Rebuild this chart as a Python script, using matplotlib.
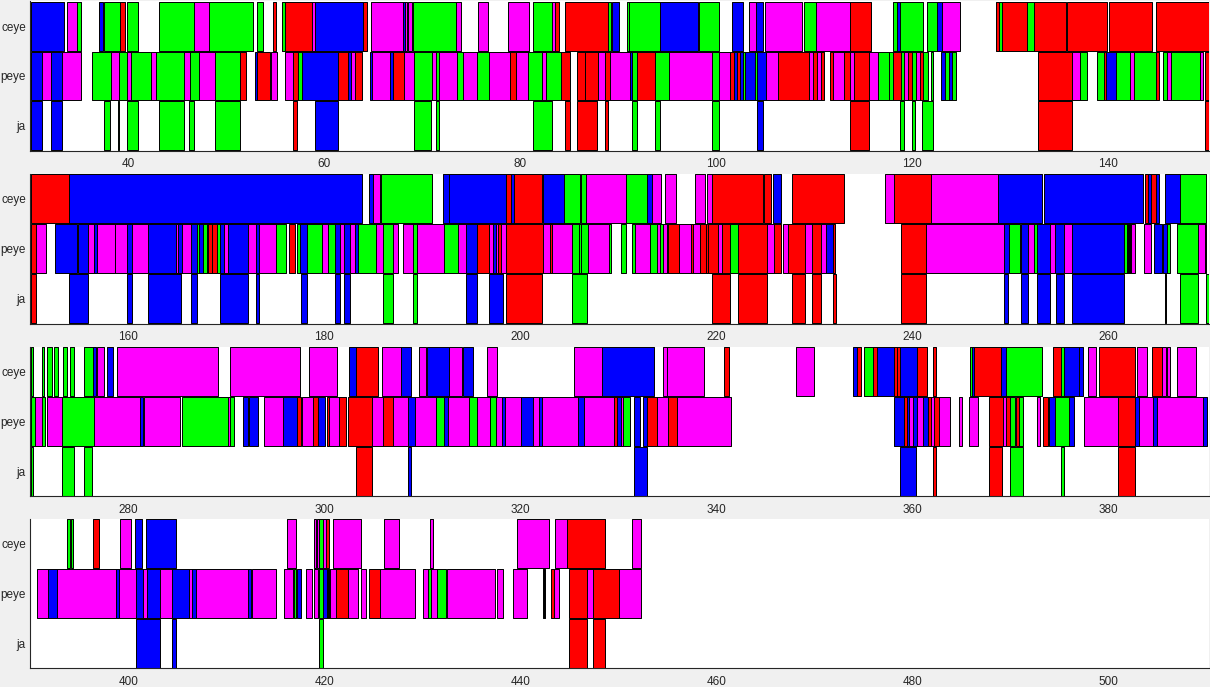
import matplotlib
matplotlib.use('Agg')
from matplotlib import pyplot as plt

# segments: (start, end, colour) in seconds
# row 1: 30-150 s
ceye_r1 = [(30.07, 33.47, 'b'), (33.78, 34.73, 'm'), (34.77, 35.18, 'g'), (37.05, 37.45, 'b'), (37.52, 39.15, 'g'),
           (39.15, 39.66, 'r'), (39.83, 41.03, 'g'), (43.13, 46.74, 'g'), (46.74, 48.27, 'm'), (48.27, 52.69, 'g'),
           (53.13, 53.75, 'g'), (54.8, 55.1, 'r'), (55.65, 55.99, 'g'), (55.99, 58.71, 'r'), (58.71, 59.05, 'm'),
           (59.05, 63.98, 'b'), (63.98, 64.32, 'r'), (64.77, 68.07, 'm'), (68.07, 68.2, 'b'), (68.2, 68.47, 'm'),
           (68.5, 68.91, 'm'), (69.08, 73.4, 'g'), (73.4, 73.94, 'm'), (75.68, 76.73, 'm'), (78.74, 80.85, 'm'),
           (81.33, 83.26, 'g'), (83.26, 83.54, 'm'), (83.54, 83.91, 'r'), (84.52, 88.91, 'r'), (88.91, 89.22, 'g'),
           (89.35, 90.07, 'b'), (90.85, 91.12, 'g'), (91.12, 94.25, 'g'), (94.25, 98.16, 'b'), (98.23, 100.3, 'g'),
           (101.63, 102.69, 'b'), (103.3, 104.01, 'm'), (104.05, 104.8, 'b'), (105.0, 108.77, 'm'), (108.98, 110.17, 'g'),
           (110.17, 113.64, 'm'), (113.64, 115.82, 'r'), (118.03, 118.47, 'g'), (118.47, 118.74, 'b'), (118.74, 121.06, 'g'),
           (121.47, 122.55, 'g'), (122.55, 123.0, 'b'), (123.0, 124.9, 'm'), (128.54, 128.81, 'r'), (128.81, 129.19, 'g'),
           (129.19, 131.67, 'r'), (131.67, 132.45, 'g'), (132.45, 135.65, 'r'), (135.82, 139.83, 'r'), (140.04, 144.46, 'r'),
           (144.87, 150.4, 'r')]
peye_r1 = [(30.07, 31.16, 'b'), (31.16, 32.08, 'm'), (32.08, 33.24, 'b'), (33.24, 35.14, 'm'), (36.33, 38.2, 'g'),
           (38.2, 39.05, 'm'), (39.05, 39.87, 'g'), (39.87, 40.28, 'm'), (40.28, 42.28, 'g'), (42.28, 42.86, 'm'),
           (42.86, 45.65, 'g'), (45.65, 46.26, 'm'), (46.26, 47.25, 'g'), (47.25, 48.88, 'm'), (48.88, 51.4, 'g'),
           (51.4, 51.98, 'r'), (52.9, 53.17, 'b'), (53.17, 54.49, 'r'), (54.53, 55.21, 'm'), (56.03, 56.84, 'm'),
           (56.84, 57.28, 'r'), (57.28, 57.69, 'g'), (57.69, 61.4, 'b'), (61.4, 62.45, 'r'), (62.45, 62.69, 'b'),
           (62.69, 63.13, 'm'), (63.13, 63.81, 'r'), (64.7, 64.91, 'b'), (64.91, 66.71, 'm'), (66.71, 66.98, 'b'),
           (66.98, 68.16, 'r'), (68.16, 69.15, 'm'), (69.15, 70.95, 'g'), (70.95, 71.39, 'm'), (71.39, 71.73, 'g'),
           (71.73, 73.5, 'm'), (73.5, 74.11, 'g'), (74.11, 75.54, 'm'), (75.54, 76.84, 'g'), (76.84, 78.94, 'm'),
           (78.94, 79.56, 'r'), (79.56, 80.82, 'm'), (80.82, 82.18, 'g'), (82.18, 82.58, 'm'), (82.58, 84.11, 'g'),
           (84.11, 85.07, 'r'), (85.75, 86.63, 'r'), (86.63, 87.89, 'r'), (87.89, 88.67, 'm'), (88.67, 89.18, 'r'),
           (89.18, 91.19, 'm'), (91.19, 91.43, 'b'), (91.43, 91.94, 'g'), (91.94, 93.77, 'r'), (93.77, 95.14, 'g'),
           (95.14, 99.59, 'm'), (99.59, 100.3, 'g'), (100.3, 101.39, 'm'), (101.39, 101.84, 'r'), (101.84, 102.14, 'b'),
           (102.14, 102.41, 'r'), (102.41, 102.75, 'b'), (102.75, 102.96, 'g'), (102.96, 103.94, 'b'), (103.94, 104.18, 'g'),
           (104.18, 105.03, 'b'), (105.03, 106.33, 'm'), (106.33, 109.49, 'r'), (109.49, 109.9, 'm'), (109.9, 110.31, 'r'),
           (110.31, 110.65, 'm'), (110.65, 110.99, 'r'), (111.6, 111.94, 'r'), (111.94, 113.06, 'm'), (113.06, 113.64, 'r'),
           (113.64, 114.08, 'm'), (114.08, 115.61, 'r'), (115.61, 116.47, 'm'), (116.47, 117.62, 'g'), (117.62, 118.0, 'g'),
           (118.0, 118.81, 'r'), (118.81, 119.15, 'g'), (119.15, 119.6, 'm'), (119.6, 120.0, 'r'), (120.0, 120.34, 'g'),
           (120.34, 120.78, 'm'), (120.78, 121.06, 'r'), (121.06, 121.63, 'g'), (121.87, 122.15, 'g'), (122.96, 123.34, 'b'),
           (123.34, 123.74, 'g'), (123.74, 124.08, 'b'), (124.08, 124.46, 'g'), (132.79, 136.26, 'r'), (136.26, 137.11, 'm'),
           (137.11, 137.86, 'g'), (138.88, 139.55, 'g'), (139.55, 139.76, 'r'), (139.76, 140.75, 'b'), (140.75, 142.21, 'g'),
           (142.21, 142.62, 'm'), (142.62, 144.87, 'g'), (144.87, 145.21, 'r'), (145.61, 145.95, 'g'), (145.95, 146.36, 'm'),
           (146.36, 149.36, 'g'), (149.36, 149.7, 'm'), (149.87, 150.4, 'r')]
ja_r1 = [(30.07, 31.16, 'b'), (32.11, 33.24, 'b'), (37.56, 38.17, 'g'), (38.98, 39.1, 'g'), (39.83, 41.03, 'g'),
         (43.13, 45.65, 'g'), (46.23, 46.74, 'g'), (48.88, 51.4, 'g'), (56.84, 57.25, 'r'), (59.09, 61.37, 'b'),
         (69.15, 70.88, 'g'), (71.39, 71.73, 'g'), (81.33, 83.26, 'g'), (84.52, 85.03, 'r'), (85.75, 87.82, 'r'),
         (88.67, 88.91, 'r'), (91.43, 91.9, 'g'), (93.74, 94.22, 'g'), (99.59, 100.27, 'g'), (104.18, 104.8, 'b'),
         (113.64, 115.58, 'r'), (118.78, 119.12, 'g'), (119.93, 120.27, 'g'), (121.02, 122.15, 'g'), (132.79, 136.26, 'r'),
         (149.87, 150.4, 'r')]

# row 2: 150-270 s
ceye_r2 = [(150.07, 153.98, 'r'), (153.98, 183.81, 'b'), (184.6, 184.94, 'b'), (184.94, 185.69, 'm'), (185.75, 190.95, 'g'),
           (192.07, 192.69, 'b'), (192.75, 198.54, 'b'), (198.54, 199.05, 'r'), (199.05, 199.39, 'b'), (199.39, 202.24, 'r'),
           (202.31, 204.45, 'b'), (204.45, 206.09, 'g'), (206.19, 206.7, 'g'), (206.7, 210.78, 'm'), (210.78, 212.96, 'g'),
           (212.96, 213.47, 'b'), (213.47, 214.32, 'm'), (214.79, 215.85, 'm'), (217.79, 218.84, 'm'), (219.01, 219.52, 'm'),
           (219.52, 224.73, 'r'), (224.86, 225.54, 'r'), (225.81, 226.56, 'b'), (227.69, 233.03, 'r'), (237.25, 238.17, 'm'),
           (238.17, 241.91, 'r'), (241.91, 248.71, 'm'), (248.71, 253.2, 'b'), (253.44, 263.51, 'b'), (263.74, 264.09, 'r'),
           (264.09, 264.32, 'b'), (264.32, 264.87, 'r'), (264.87, 265.17, 'b'), (265.78, 267.32, 'b'), (267.32, 270.0, 'g')]
peye_r2 = [(150.07, 150.58, 'r'), (150.58, 151.57, 'm'), (152.52, 154.73, 'b'), (154.84, 155.86, 'b'), (155.86, 156.54, 'm'),
           (156.54, 156.84, 'b'), (156.84, 158.61, 'm'), (158.68, 159.84, 'm'), (159.84, 160.41, 'b'), (160.41, 162.01, 'm'),
           (162.01, 164.84, 'b'), (164.84, 165.11, 'm'), (165.11, 165.45, 'b'), (165.45, 166.4, 'm'), (166.4, 166.98, 'b'),
           (166.98, 167.25, 'g'), (167.25, 167.59, 'b'), (167.59, 168.0, 'g'), (168.0, 168.17, 'r'), (168.17, 168.51, 'r'),
           (168.51, 169.02, 'r'), (169.02, 169.36, 'g'), (169.36, 169.8, 'b'), (169.8, 170.21, 'm'), (170.21, 172.18, 'b'),
           (172.18, 173.0, 'm'), (173.0, 173.34, 'b'), (173.34, 175.04, 'm'), (175.04, 176.13, 'g'), (176.4, 176.98, 'r'),
           (177.18, 177.52, 'g'), (177.52, 178.27, 'b'), (178.27, 179.77, 'g'), (179.77, 180.41, 'm'), (180.41, 181.09, 'g'),
           (181.09, 181.6, 'b'), (181.6, 182.05, 'm'), (182.05, 182.62, 'b'), (182.62, 183.17, 'm'), (183.17, 183.41, 'b'),
           (183.41, 185.24, 'g'), (185.24, 185.96, 'm'), (185.96, 187.05, 'g'), (187.05, 187.56, 'm'), (188.07, 189.08, 'm'),
           (189.08, 189.49, 'g'), (189.49, 192.24, 'm'), (192.24, 193.67, 'g'), (193.67, 194.42, 'm'), (194.42, 195.54, 'b'),
           (195.54, 196.84, 'r'), (196.84, 197.18, 'm'), (197.18, 197.48, 'b'), (197.48, 197.75, 'm'), (197.75, 198.03, 'r'),
           (198.03, 198.54, 'm'), (198.54, 202.35, 'r'), (202.35, 203.03, 'm'), (203.03, 203.26, 'r'), (203.26, 205.3, 'm'),
           (205.3, 205.99, 'g'), (205.99, 206.19, 'g'), (206.19, 206.87, 'g'), (206.87, 209.05, 'm'), (209.05, 209.25, 'g'),
           (210.24, 210.75, 'g'), (211.43, 211.7, 'g'), (211.7, 213.23, 'm'), (213.23, 213.91, 'g'), (213.91, 214.25, 'm'),
           (214.25, 214.52, 'g'), (214.52, 214.93, 'm'), (214.93, 215.1, 'g'), (215.1, 216.22, 'r'), (216.22, 217.38, 'm'),
           (217.38, 217.65, 'r'), (217.65, 218.33, 'm'), (218.33, 218.94, 'r'), (218.94, 219.18, 'r'), (219.18, 220.2, 'r'),
           (220.2, 220.61, 'm'), (220.61, 221.39, 'r'), (221.39, 222.18, 'g'), (222.24, 225.2, 'r'), (225.2, 225.88, 'm'),
           (225.88, 226.56, 'r'), (226.83, 227.28, 'm'), (227.28, 229.05, 'r'), (229.05, 229.8, 'm'), (229.8, 230.65, 'r'),
           (230.65, 231.19, 'm'), (231.19, 231.87, 'b'), (231.87, 232.15, 'r'), (238.85, 241.4, 'r'), (241.4, 249.36, 'm'),
           (249.36, 249.83, 'b'), (249.83, 250.99, 'g'), (251.09, 251.84, 'b'), (251.84, 252.45, 'm'), (252.45, 252.72, 'g'),
           (252.72, 254.05, 'b'), (254.05, 254.59, 'm'), (254.59, 255.48, 'b'), (255.48, 256.33, 'm'), (256.33, 261.63, 'b'),
           (261.63, 261.94, 'g'), (261.94, 262.31, 'k'), (262.31, 262.72, 'm'), (263.64, 264.32, 'm'), (264.66, 265.44, 'b'),
           (265.61, 265.95, 'b'), (265.95, 266.29, 'g'), (266.97, 269.12, 'g'), (269.12, 269.87, 'm'), (269.87, 270.0, 'k')]
ja_r2 = [(150.07, 150.55, 'r'), (153.98, 155.86, 'b'), (159.84, 160.41, 'b'), (162.01, 165.41, 'b'), (166.4, 166.98, 'b'),
         (169.36, 172.18, 'b'), (173.0, 173.34, 'b'), (177.59, 178.27, 'b'), (181.09, 181.6, 'b'), (182.05, 182.62, 'b'),
         (185.96, 187.05, 'g'), (189.08, 189.42, 'g'), (194.42, 195.54, 'b'), (196.84, 198.26, 'b'), (198.54, 202.24, 'r'),
         (205.3, 206.77, 'g'), (219.59, 221.39, 'r'), (222.24, 225.2, 'r'), (227.75, 229.08, 'r'), (229.8, 230.68, 'r'),
         (231.87, 232.18, 'r'), (238.85, 241.4, 'r'), (249.39, 249.8, 'b'), (251.09, 251.81, 'b'), (252.76, 254.05, 'b'),
         (254.63, 255.48, 'b'), (256.33, 261.63, 'b'), (265.78, 265.9, 'k'), (267.35, 269.12, 'g'), (269.93, 270.3, 'g')]

# row 3: 270-390 s
ceye_r3 = [(270.07, 270.31, 'g'), (271.23, 271.43, 'g'), (271.74, 272.18, 'g'), (272.45, 272.86, 'g'), (273.37, 273.71, 'g'),
           (274.02, 274.46, 'g'), (275.52, 276.37, 'g'), (276.37, 276.71, 'b'), (276.77, 277.56, 'm'), (277.8, 278.47, 'b'),
           (278.81, 289.19, 'm'), (290.38, 297.56, 'm'), (298.48, 301.26, 'm'), (302.52, 303.2, 'b'), (303.2, 305.52, 'r'),
           (305.86, 307.79, 'm'), (307.83, 308.85, 'b'), (309.62, 310.37, 'm'), (310.44, 312.75, 'b'), (312.75, 314.08, 'm'),
           (314.11, 315.2, 'b'), (316.56, 317.65, 'm'), (325.44, 328.3, 'm'), (328.3, 333.67, 'b'), (334.52, 335.0, 'm'),
           (335.0, 338.77, 'm'), (340.78, 341.29, 'r'), (348.13, 350.0, 'm'), (353.98, 354.39, 'b'), (354.39, 354.73, 'r'),
           (355.1, 356.02, 'g'), (356.02, 356.36, 'r'), (356.36, 358.13, 'b'), (358.13, 358.47, 'r'), (358.47, 358.74, 'r'),
           (358.74, 360.51, 'b'), (360.51, 361.47, 'r'), (362.15, 362.42, 'r'), (365.89, 366.13, 'g'), (366.13, 366.33, 'b'),
           (366.33, 369.09, 'r'), (369.09, 369.56, 'b'), (369.56, 373.23, 'g'), (374.39, 375.14, 'r'), (375.14, 375.51, 'g'),
           (375.51, 377.04, 'b'), (377.04, 377.38, 'b'), (377.93, 378.74, 'm'), (379.08, 382.76, 'r'), (382.96, 383.98, 'm'),
           (384.42, 385.44, 'r'), (385.44, 385.85, 'm'), (385.95, 386.33, 'm'), (386.97, 388.91, 'm')]
peye_r3 = [(270.07, 270.48, 'g'), (270.48, 271.23, 'm'), (271.23, 271.5, 'g'), (271.74, 273.2, 'm'), (273.2, 276.54, 'g'),
           (276.54, 281.2, 'm'), (281.2, 281.47, 'b'), (281.6, 285.28, 'm'), (285.51, 290.14, 'g'), (290.14, 290.38, 'm'),
           (290.38, 290.82, 'g'), (291.74, 292.25, 'b'), (292.35, 293.2, 'b'), (293.88, 295.75, 'm'), (295.75, 297.18, 'b'),
           (297.18, 297.62, 'r'), (297.69, 298.88, 'm'), (298.88, 299.33, 'r'), (299.33, 300.07, 'b'), (300.24, 300.52, 'r'),
           (300.52, 301.5, 'm'), (301.5, 302.18, 'r'), (302.45, 304.83, 'r'), (304.83, 306.03, 'm'), (306.03, 307.04, 'r'),
           (307.04, 308.58, 'm'), (308.58, 309.25, 'b'), (309.25, 311.39, 'm'), (311.39, 312.24, 'g'), (312.24, 312.58, 'b'),
           (312.58, 314.79, 'm'), (314.79, 315.61, 'g'), (315.61, 316.9, 'm'), (316.9, 317.55, 'g'), (317.55, 318.13, 'm'),
           (318.13, 318.47, 'b'), (318.47, 320.03, 'm'), (320.03, 321.26, 'b'), (321.26, 321.94, 'm'), (321.94, 322.24, 'b'),
           (322.24, 325.85, 'm'), (325.85, 326.5, 'b'), (326.5, 329.59, 'm'), (329.59, 329.9, 'r'), (329.9, 330.24, 'b'),
           (330.24, 330.51, 'm'), (330.51, 331.19, 'g'), (331.63, 332.21, 'b'), (332.55, 332.96, 'b'), (332.96, 333.91, 'r'),
           (333.91, 335.03, 'm'), (335.03, 336.02, 'r'), (336.02, 341.5, 'm'), (358.17, 359.19, 'b'), (359.19, 359.43, 'r'),
           (359.43, 359.7, 'b'), (359.7, 360.11, 'm'), (360.11, 360.44, 'b'), (360.44, 361.06, 'm'), (361.06, 361.57, 'b'),
           (361.57, 361.87, 'r'), (361.87, 362.25, 'm'), (362.25, 362.72, 'r'), (362.72, 363.81, 'm'), (364.73, 365.04, 'm'),
           (365.82, 366.7, 'm'), (367.86, 369.22, 'r'), (369.22, 369.53, 'm'), (369.53, 369.97, 'r'), (369.97, 370.48, 'g'),
           (370.58, 370.92, 'r'), (370.92, 371.26, 'g'), (372.76, 373.03, 'm'), (373.37, 373.88, 'r'), (373.98, 374.56, 'b'),
           (374.56, 376.02, 'g'), (376.02, 376.5, 'b'), (377.52, 381.02, 'm'), (381.02, 382.76, 'r'), (382.76, 383.1, 'b'),
           (383.1, 384.59, 'm'), (384.59, 385.0, 'b'), (385.0, 389.7, 'm'), (389.7, 390.04, 'b')]
ja_r3 = [(270.07, 270.31, 'g'), (273.27, 274.5, 'g'), (275.52, 276.33, 'g'), (303.2, 304.83, 'r'), (308.58, 308.85, 'b'),
         (331.63, 332.92, 'b'), (358.74, 360.38, 'b'), (362.15, 362.42, 'r'), (367.86, 369.12, 'r'), (369.97, 371.26, 'g'),
         (375.17, 375.51, 'g'), (381.02, 382.76, 'r')]

# row 4: 390-510 s
ceye_r4 = [(393.71, 394.05, 'g'), (394.12, 394.39, 'g'), (396.4, 397.01, 'r'), (399.19, 400.28, 'm'), (400.69, 401.43, 'b'),
           (401.81, 404.87, 'b'), (416.23, 417.08, 'm'), (418.95, 419.15, 'm'), (419.29, 419.5, 'm'), (419.5, 419.85, 'g'),
           (419.85, 420.14, 'm'), (420.14, 420.52, 'r'), (420.92, 423.71, 'm'), (426.09, 427.66, 'm'), (430.82, 431.09, 'm'),
           (439.7, 442.89, 'm'), (443.57, 444.8, 'm'), (444.8, 448.61, 'r'), (451.43, 452.28, 'm')]
peye_r4 = [(390.72, 391.77, 'm'), (391.77, 392.69, 'b'), (392.69, 398.75, 'm'), (398.75, 399.05, 'b'), (399.05, 400.75, 'm'),
           (400.75, 401.54, 'b'), (401.54, 401.88, 'm'), (401.88, 403.24, 'b'), (403.24, 404.5, 'm'), (404.5, 406.2, 'b'),
           (406.2, 406.54, 'm'), (406.54, 406.88, 'b'), (406.88, 412.25, 'm'), (412.25, 412.49, 'b'), (412.66, 415.04, 'm'),
           (415.89, 416.78, 'm'), (416.91, 417.11, 'g'), (417.22, 417.59, 'b'), (418.1, 418.78, 'm'), (418.95, 419.39, 'm'),
           (419.5, 419.9, 'g'), (419.9, 420.24, 'b'), (420.24, 420.58, 'k'), (420.58, 421.16, 'm'), (421.16, 422.45, 'r'),
           (422.45, 423.47, 'm'), (423.74, 424.22, 'm'), (424.59, 425.68, 'r'), (425.68, 429.25, 'm'), (430.04, 430.61, 'm'),
           (430.61, 430.89, 'g'), (430.89, 431.46, 'm'), (431.46, 432.42, 'g'), (432.48, 437.42, 'm'), (437.65, 438.2, 'm'),
           (439.29, 440.72, 'm'), (442.35, 442.55, 'k'), (443.13, 443.47, 'r'), (443.47, 443.98, 'm'), (445.0, 446.84, 'r'),
           (446.84, 447.45, 'm'), (447.45, 450.07, 'r'), (450.07, 452.28, 'm')]
ja_r4 = [(400.75, 403.24, 'b'), (404.5, 404.87, 'b'), (419.5, 419.9, 'g'), (445.0, 446.77, 'r'), (447.45, 448.64, 'r')]

row_starts = [30, 150, 270, 390]
rows = [(ceye_r1, peye_r1, ja_r1), (ceye_r2, peye_r2, ja_r2),
        (ceye_r3, peye_r3, ja_r3), (ceye_r4, peye_r4, ja_r4)]
track_names = ['ja', 'peye', 'ceye']

colours = {'b': (0, 0, 1), 'm': (1, 0, 1), 'g': (0, 1, 0), 'r': (1, 0, 0), 'k': (0, 0, 0)}

plt.rcParams['font.family'] = ['Liberation Sans', 'DejaVu Sans']

fig = plt.figure(figsize=(12.1, 6.87), dpi=100, facecolor='#f0f0f0')

row_px = [(1.2, 150.7), (174, 323.5), (346.5, 496), (519, 668)]

for (top, bottom), start, tracks in zip(row_px, row_starts, rows):
    ax = fig.add_axes([30 / 1210, 1 - bottom / 687, 1179 / 1210, (bottom - top) / 687])
    ax.set_facecolor('white')
    ceye, peye, ja = tracks
    for y, segs in zip([3, 2, 1], [ceye, peye, ja]):
        ax.broken_barh([(s, e - s) for s, e, c in segs], (y - 0.49, 0.98),
                       facecolors=[colours[c] for s, e, c in segs],
                       edgecolor='black', linewidth=0.7)
    ax.set_xlim(start - 0.03, start + 120.28)
    ax.set_ylim(0.5, 3.5)
    ax.set_xticks(range(start + 10, start + 120, 20))
    ax.set_yticks([1, 2, 3])
    ax.set_yticklabels(track_names)
    for side in ['top', 'right']:
        ax.spines[side].set_visible(False)
    for side in ['left', 'bottom']:
        ax.spines[side].set_color('#262626')
        ax.spines[side].set_linewidth(0.8)
    ax.tick_params(axis='both', length=0, labelsize=8.5, colors='#262626')
    ax.tick_params(axis='x', pad=5.5)
    ax.tick_params(axis='y', pad=3)

fig.savefig('out.png', dpi=100, facecolor=fig.get_facecolor())
